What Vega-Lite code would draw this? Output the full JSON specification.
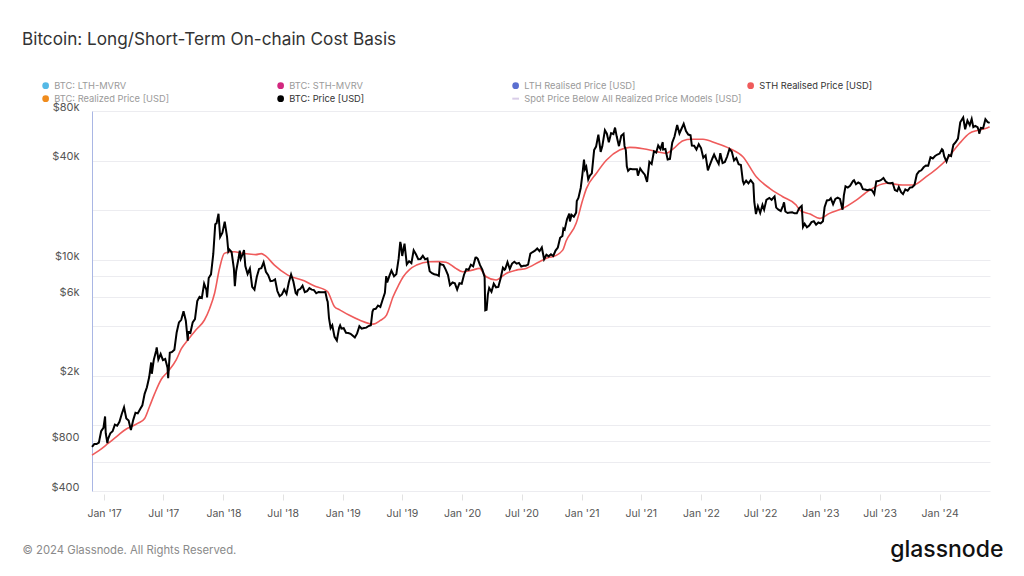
{
  "$schema": "https://vega.github.io/schema/vega-lite/v6.json",
  "autosize": "none",
  "width": 898,
  "height": 380,
  "padding": {"left": 92, "top": 111, "right": 34, "bottom": 85},
  "background": "white",
  "config": {
    "font": "Inter",
    "view": {"stroke": null},
    "axis": {"labelFont": "Inter", "titleFont": "Inter"},
    "legend": {"labelFont": "Inter"}
  },
  "title": {
    "text": "Bitcoin: Long/Short-Term On-chain Cost Basis",
    "anchor": "start",
    "frame": "group",
    "font": "Inter",
    "fontSize": 17.2,
    "fontWeight": "normal",
    "color": "#333333",
    "dx": -70,
    "offset": 33
  },
  "datasets": {
    "price": [
      {"d":"2016-11-25","p":740},{"d":"2016-12-02","p":770},{"d":"2016-12-09","p":770},{"d":"2016-12-16","p":785},{"d":"2016-12-23","p":920},{"d":"2016-12-30","p":965},
      {"d":"2017-01-04","p":1130},{"d":"2017-01-06","p":895},{"d":"2017-01-11","p":780},{"d":"2017-01-13","p":825},{"d":"2017-01-20","p":895},{"d":"2017-01-27","p":920},
      {"d":"2017-02-03","p":1010},{"d":"2017-02-10","p":995},{"d":"2017-02-17","p":1050},{"d":"2017-02-24","p":1170},{"d":"2017-03-03","p":1285},{"d":"2017-03-10","p":1100},
      {"d":"2017-03-17","p":1070},{"d":"2017-03-24","p":935},{"d":"2017-03-31","p":1075},{"d":"2017-04-07","p":1190},{"d":"2017-04-14","p":1180},{"d":"2017-04-21","p":1250},
      {"d":"2017-04-28","p":1320},{"d":"2017-05-05","p":1550},{"d":"2017-05-12","p":1700},{"d":"2017-05-19","p":1960},{"d":"2017-05-25","p":2400},{"d":"2017-05-27","p":2050},
      {"d":"2017-06-02","p":2490},{"d":"2017-06-09","p":2820},{"d":"2017-06-11","p":2960},{"d":"2017-06-16","p":2500},{"d":"2017-06-23","p":2700},{"d":"2017-06-30","p":2480},
      {"d":"2017-07-07","p":2520},{"d":"2017-07-14","p":2230},{"d":"2017-07-16","p":1930},{"d":"2017-07-21","p":2750},{"d":"2017-07-28","p":2780},{"d":"2017-08-04","p":2870},
      {"d":"2017-08-11","p":3650},{"d":"2017-08-18","p":4200},{"d":"2017-08-25","p":4350},{"d":"2017-09-01","p":4900},{"d":"2017-09-08","p":4300},{"d":"2017-09-14","p":3250},
      {"d":"2017-09-15","p":3700},{"d":"2017-09-22","p":3630},{"d":"2017-09-29","p":4200},{"d":"2017-10-06","p":4400},{"d":"2017-10-13","p":5650},{"d":"2017-10-20","p":6000},
      {"d":"2017-10-27","p":5900},{"d":"2017-11-03","p":7200},{"d":"2017-11-10","p":6600},{"d":"2017-11-12","p":5950},{"d":"2017-11-17","p":7800},{"d":"2017-11-24","p":8200},
      {"d":"2017-12-01","p":10900},{"d":"2017-12-07","p":16500},{"d":"2017-12-11","p":16700},{"d":"2017-12-17","p":19100},{"d":"2017-12-22","p":13800},{"d":"2017-12-29","p":14650},
      {"d":"2018-01-05","p":17100},{"d":"2018-01-12","p":13900},{"d":"2018-01-16","p":11300},{"d":"2018-01-19","p":11600},{"d":"2018-01-26","p":11200},{"d":"2018-02-02","p":8900},
      {"d":"2018-02-05","p":6950},{"d":"2018-02-09","p":8600},{"d":"2018-02-16","p":10200},{"d":"2018-02-20","p":11400},{"d":"2018-02-23","p":10200},{"d":"2018-03-02","p":11000},
      {"d":"2018-03-05","p":11500},{"d":"2018-03-09","p":9200},{"d":"2018-03-16","p":8250},{"d":"2018-03-23","p":8900},{"d":"2018-03-30","p":6900},{"d":"2018-04-06","p":6630},
      {"d":"2018-04-13","p":7900},{"d":"2018-04-20","p":8850},{"d":"2018-04-27","p":8950},{"d":"2018-05-04","p":9700},{"d":"2018-05-11","p":8500},{"d":"2018-05-18","p":8100},
      {"d":"2018-05-25","p":7470},{"d":"2018-06-01","p":7500},{"d":"2018-06-08","p":7650},{"d":"2018-06-15","p":6500},{"d":"2018-06-22","p":6050},{"d":"2018-06-29","p":6200},
      {"d":"2018-07-06","p":6640},{"d":"2018-07-13","p":6250},{"d":"2018-07-20","p":7320},{"d":"2018-07-27","p":8190},{"d":"2018-08-03","p":7420},{"d":"2018-08-10","p":6320},
      {"d":"2018-08-14","p":6200},{"d":"2018-08-17","p":6580},{"d":"2018-08-24","p":6690},{"d":"2018-08-31","p":7000},{"d":"2018-09-07","p":6400},{"d":"2018-09-14","p":6490},
      {"d":"2018-09-21","p":6770},{"d":"2018-09-28","p":6630},{"d":"2018-10-05","p":6590},{"d":"2018-10-12","p":6300},{"d":"2018-10-19","p":6420},{"d":"2018-10-26","p":6400},
      {"d":"2018-11-02","p":6390},{"d":"2018-11-09","p":6410},{"d":"2018-11-14","p":5740},{"d":"2018-11-16","p":5600},{"d":"2018-11-20","p":4450},{"d":"2018-11-25","p":3880},
      {"d":"2018-11-30","p":4030},{"d":"2018-12-07","p":3430},{"d":"2018-12-14","p":3260},{"d":"2018-12-21","p":3900},{"d":"2018-12-24","p":4030},{"d":"2018-12-28","p":3850},
      {"d":"2019-01-04","p":3870},{"d":"2019-01-11","p":3630},{"d":"2019-01-18","p":3620},{"d":"2019-01-25","p":3580},{"d":"2019-02-01","p":3480},{"d":"2019-02-07","p":3400},
      {"d":"2019-02-14","p":3600},{"d":"2019-02-21","p":3980},{"d":"2019-02-28","p":3850},{"d":"2019-03-07","p":3880},{"d":"2019-03-14","p":3900},{"d":"2019-03-21","p":3990},
      {"d":"2019-03-28","p":4030},{"d":"2019-04-02","p":4880},{"d":"2019-04-05","p":5040},{"d":"2019-04-12","p":5070},{"d":"2019-04-19","p":5310},{"d":"2019-04-26","p":5200},
      {"d":"2019-05-03","p":5760},{"d":"2019-05-10","p":6350},{"d":"2019-05-14","p":8000},{"d":"2019-05-17","p":7340},{"d":"2019-05-24","p":8050},{"d":"2019-05-30","p":8650},
      {"d":"2019-06-07","p":7990},{"d":"2019-06-14","p":8230},{"d":"2019-06-21","p":10200},{"d":"2019-06-26","p":12900},{"d":"2019-06-28","p":12400},{"d":"2019-07-02","p":10600},
      {"d":"2019-07-09","p":12570},{"d":"2019-07-16","p":9430},{"d":"2019-07-23","p":9850},{"d":"2019-07-30","p":9590},{"d":"2019-08-06","p":11460},{"d":"2019-08-13","p":10850},
      {"d":"2019-08-20","p":10140},{"d":"2019-08-27","p":10170},{"d":"2019-09-03","p":10620},{"d":"2019-09-10","p":10110},{"d":"2019-09-17","p":10240},{"d":"2019-09-24","p":8560},
      {"d":"2019-10-01","p":8340},{"d":"2019-10-08","p":8220},{"d":"2019-10-15","p":8160},{"d":"2019-10-22","p":8020},{"d":"2019-10-25","p":9550},{"d":"2019-10-29","p":9430},
      {"d":"2019-11-05","p":9330},{"d":"2019-11-12","p":8770},{"d":"2019-11-19","p":8120},{"d":"2019-11-25","p":7050},{"d":"2019-12-03","p":7320},{"d":"2019-12-10","p":7240},
      {"d":"2019-12-17","p":6640},{"d":"2019-12-24","p":7250},{"d":"2019-12-31","p":7190},
      {"d":"2020-01-07","p":8160},{"d":"2020-01-14","p":8810},{"d":"2020-01-21","p":8740},{"d":"2020-01-28","p":9390},{"d":"2020-02-04","p":9180},{"d":"2020-02-11","p":10350},
      {"d":"2020-02-14","p":10370},{"d":"2020-02-18","p":10180},{"d":"2020-02-25","p":9320},{"d":"2020-03-03","p":8760},{"d":"2020-03-10","p":7910},{"d":"2020-03-12","p":4970},
      {"d":"2020-03-16","p":5010},{"d":"2020-03-20","p":6200},{"d":"2020-03-24","p":6780},{"d":"2020-03-31","p":6440},{"d":"2020-04-07","p":7200},{"d":"2020-04-14","p":6840},
      {"d":"2020-04-21","p":6880},{"d":"2020-04-28","p":7760},{"d":"2020-05-05","p":9000},{"d":"2020-05-10","p":8750},{"d":"2020-05-12","p":8820},{"d":"2020-05-19","p":9730},
      {"d":"2020-05-26","p":8840},{"d":"2020-06-02","p":9530},{"d":"2020-06-09","p":9780},{"d":"2020-06-16","p":9520},{"d":"2020-06-23","p":9630},{"d":"2020-06-30","p":9140},
      {"d":"2020-07-07","p":9250},{"d":"2020-07-14","p":9250},{"d":"2020-07-21","p":9390},{"d":"2020-07-28","p":10950},{"d":"2020-08-04","p":11200},{"d":"2020-08-11","p":11400},
      {"d":"2020-08-18","p":11760},{"d":"2020-08-25","p":11330},{"d":"2020-09-01","p":11930},{"d":"2020-09-08","p":10130},{"d":"2020-09-15","p":10790},{"d":"2020-09-22","p":10540},
      {"d":"2020-09-29","p":10840},{"d":"2020-10-06","p":10600},{"d":"2020-10-13","p":11430},{"d":"2020-10-20","p":11920},{"d":"2020-10-27","p":13650},{"d":"2020-11-03","p":14000},
      {"d":"2020-11-06","p":15560},{"d":"2020-11-10","p":15300},{"d":"2020-11-17","p":17660},{"d":"2020-11-24","p":19150},{"d":"2020-11-26","p":17150},{"d":"2020-12-01","p":18800},
      {"d":"2020-12-08","p":18320},{"d":"2020-12-15","p":19400},{"d":"2020-12-17","p":22800},{"d":"2020-12-22","p":23830},{"d":"2020-12-29","p":27360},
      {"d":"2021-01-03","p":32780},{"d":"2021-01-08","p":40600},{"d":"2021-01-11","p":35500},{"d":"2021-01-15","p":36800},{"d":"2021-01-21","p":30800},{"d":"2021-01-26","p":32500},
      {"d":"2021-02-01","p":33500},{"d":"2021-02-08","p":46400},{"d":"2021-02-14","p":48700},{"d":"2021-02-21","p":57500},{"d":"2021-02-28","p":45200},{"d":"2021-03-05","p":48900},
      {"d":"2021-03-13","p":61200},{"d":"2021-03-19","p":58300},{"d":"2021-03-25","p":51700},{"d":"2021-04-01","p":58800},{"d":"2021-04-08","p":58000},{"d":"2021-04-13","p":63500},
      {"d":"2021-04-18","p":56200},{"d":"2021-04-25","p":49000},{"d":"2021-05-02","p":56600},{"d":"2021-05-09","p":58200},{"d":"2021-05-12","p":49150},{"d":"2021-05-16","p":46400},
      {"d":"2021-05-19","p":37000},{"d":"2021-05-23","p":34700},{"d":"2021-05-29","p":35700},{"d":"2021-06-05","p":35500},{"d":"2021-06-12","p":35500},{"d":"2021-06-19","p":35500},
      {"d":"2021-06-22","p":32500},{"d":"2021-06-29","p":35900},{"d":"2021-07-06","p":34200},{"d":"2021-07-13","p":32900},{"d":"2021-07-20","p":29800},{"d":"2021-07-27","p":39400},
      {"d":"2021-08-03","p":38200},{"d":"2021-08-10","p":45600},{"d":"2021-08-17","p":44800},{"d":"2021-08-23","p":49500},{"d":"2021-08-30","p":47000},{"d":"2021-09-06","p":51800},
      {"d":"2021-09-07","p":46800},{"d":"2021-09-14","p":47100},{"d":"2021-09-21","p":40700},{"d":"2021-09-28","p":41000},{"d":"2021-10-05","p":51500},{"d":"2021-10-12","p":56000},
      {"d":"2021-10-20","p":65900},{"d":"2021-10-27","p":58500},{"d":"2021-11-03","p":62900},{"d":"2021-11-09","p":66900},{"d":"2021-11-16","p":60400},{"d":"2021-11-23","p":57600},
      {"d":"2021-11-30","p":57000},{"d":"2021-12-04","p":49400},{"d":"2021-12-11","p":49300},{"d":"2021-12-18","p":46700},{"d":"2021-12-25","p":50400},
      {"d":"2022-01-01","p":47700},{"d":"2022-01-08","p":41700},{"d":"2022-01-15","p":43100},{"d":"2022-01-22","p":35000},{"d":"2022-01-29","p":38200},{"d":"2022-02-05","p":41400},
      {"d":"2022-02-10","p":43600},{"d":"2022-02-17","p":40600},{"d":"2022-02-24","p":38300},{"d":"2022-03-01","p":44400},{"d":"2022-03-08","p":38700},{"d":"2022-03-15","p":39300},
      {"d":"2022-03-22","p":42400},{"d":"2022-03-29","p":47100},{"d":"2022-04-05","p":45500},{"d":"2022-04-12","p":40100},{"d":"2022-04-19","p":41500},{"d":"2022-04-26","p":38100},
      {"d":"2022-05-03","p":37700},{"d":"2022-05-09","p":30100},{"d":"2022-05-12","p":29000},{"d":"2022-05-19","p":30300},{"d":"2022-05-26","p":29200},{"d":"2022-06-02","p":30500},
      {"d":"2022-06-10","p":29100},{"d":"2022-06-13","p":22500},{"d":"2022-06-18","p":19000},{"d":"2022-06-24","p":21200},{"d":"2022-07-01","p":19300},{"d":"2022-07-08","p":21600},
      {"d":"2022-07-13","p":20200},{"d":"2022-07-20","p":23200},{"d":"2022-07-29","p":23800},{"d":"2022-08-05","p":23200},{"d":"2022-08-14","p":24300},{"d":"2022-08-19","p":20800},
      {"d":"2022-08-26","p":20200},{"d":"2022-09-02","p":19800},{"d":"2022-09-09","p":21400},{"d":"2022-09-12","p":22400},{"d":"2022-09-16","p":19700},{"d":"2022-09-23","p":19300},
      {"d":"2022-09-30","p":19400},{"d":"2022-10-07","p":19500},{"d":"2022-10-14","p":19200},{"d":"2022-10-21","p":19200},{"d":"2022-10-28","p":20600},{"d":"2022-11-05","p":21300},
      {"d":"2022-11-09","p":15900},{"d":"2022-11-14","p":16600},{"d":"2022-11-21","p":15800},{"d":"2022-11-28","p":16200},{"d":"2022-12-05","p":17000},{"d":"2022-12-12","p":17200},
      {"d":"2022-12-19","p":16400},{"d":"2022-12-26","p":16900},
      {"d":"2023-01-02","p":16700},{"d":"2023-01-09","p":17200},{"d":"2023-01-14","p":20900},{"d":"2023-01-21","p":23000},{"d":"2023-01-28","p":23100},{"d":"2023-02-02","p":23700},
      {"d":"2023-02-09","p":21800},{"d":"2023-02-16","p":23500},{"d":"2023-02-23","p":23900},{"d":"2023-03-02","p":23500},{"d":"2023-03-10","p":20200},{"d":"2023-03-14","p":24700},
      {"d":"2023-03-19","p":28000},{"d":"2023-03-26","p":27500},{"d":"2023-04-02","p":28200},{"d":"2023-04-11","p":30200},{"d":"2023-04-14","p":30500},{"d":"2023-04-20","p":28800},
      {"d":"2023-04-27","p":29500},{"d":"2023-05-04","p":29000},{"d":"2023-05-11","p":26900},{"d":"2023-05-18","p":26800},{"d":"2023-05-25","p":26500},{"d":"2023-06-01","p":26800},
      {"d":"2023-06-08","p":26500},{"d":"2023-06-15","p":25100},{"d":"2023-06-21","p":30000},{"d":"2023-06-28","p":30100},{"d":"2023-07-05","p":30500},{"d":"2023-07-13","p":31400},
      {"d":"2023-07-20","p":29900},{"d":"2023-07-27","p":29300},{"d":"2023-08-03","p":29200},{"d":"2023-08-10","p":29400},{"d":"2023-08-17","p":26600},{"d":"2023-08-24","p":26200},
      {"d":"2023-08-29","p":27700},{"d":"2023-09-05","p":25800},{"d":"2023-09-11","p":25100},{"d":"2023-09-18","p":26800},{"d":"2023-09-25","p":26300},{"d":"2023-10-02","p":27500},
      {"d":"2023-10-09","p":27600},{"d":"2023-10-16","p":28500},{"d":"2023-10-23","p":33000},{"d":"2023-10-30","p":34500},{"d":"2023-11-06","p":35000},{"d":"2023-11-13","p":36500},
      {"d":"2023-11-20","p":37400},{"d":"2023-11-27","p":37300},{"d":"2023-12-04","p":42000},{"d":"2023-12-11","p":41300},{"d":"2023-12-18","p":42700},{"d":"2023-12-25","p":43600},
      {"d":"2024-01-01","p":44200},{"d":"2024-01-08","p":47000},{"d":"2024-01-11","p":46300},{"d":"2024-01-15","p":42500},{"d":"2024-01-22","p":39500},{"d":"2024-01-29","p":43300},
      {"d":"2024-02-05","p":42700},{"d":"2024-02-12","p":50000},{"d":"2024-02-19","p":51800},{"d":"2024-02-26","p":54500},{"d":"2024-03-04","p":68300},{"d":"2024-03-11","p":72100},
      {"d":"2024-03-13","p":73100},{"d":"2024-03-19","p":62000},{"d":"2024-03-26","p":70000},{"d":"2024-04-02","p":65700},{"d":"2024-04-08","p":71600},{"d":"2024-04-13","p":63900},
      {"d":"2024-04-19","p":64900},{"d":"2024-04-26","p":63800},{"d":"2024-04-30","p":60600},{"d":"2024-05-01","p":58300},{"d":"2024-05-06","p":63200},{"d":"2024-05-13","p":62900},
      {"d":"2024-05-20","p":71400},{"d":"2024-05-27","p":68500},{"d":"2024-06-02","p":67800}
    ],
    "sth": [
      {"d":"2016-11-25","s":660},{"d":"2016-12-15","s":700},{"d":"2017-01-13","s":776},{"d":"2017-02-10","s":860},{"d":"2017-03-10","s":950},{"d":"2017-03-25","s":980},
      {"d":"2017-04-15","s":1030},{"d":"2017-05-05","s":1100},{"d":"2017-05-20","s":1300},{"d":"2017-06-05","s":1560},{"d":"2017-06-25","s":1900},{"d":"2017-07-15","s":2110},
      {"d":"2017-08-10","s":2500},{"d":"2017-08-25","s":2900},{"d":"2017-09-14","s":3280},{"d":"2017-10-10","s":3800},{"d":"2017-11-04","s":4340},{"d":"2017-11-20","s":5100},
      {"d":"2017-12-05","s":6300},{"d":"2017-12-20","s":8900},{"d":"2018-01-04","s":10990},{"d":"2018-01-20","s":11200},{"d":"2018-02-04","s":11240},{"d":"2018-02-25","s":11000},
      {"d":"2018-03-20","s":10900},{"d":"2018-04-10","s":10800},{"d":"2018-04-27","s":10950},{"d":"2018-05-10","s":10600},{"d":"2018-06-06","s":9330},{"d":"2018-07-17","s":8120},
      {"d":"2018-09-05","s":7500},{"d":"2018-10-05","s":7000},{"d":"2018-11-05","s":6650},{"d":"2018-11-16","s":6440},{"d":"2018-12-07","s":5220},{"d":"2018-12-23","s":5000},
      {"d":"2019-01-20","s":4650},{"d":"2019-02-21","s":4340},{"d":"2019-04-04","s":4100},{"d":"2019-04-25","s":4300},{"d":"2019-05-15","s":4650},{"d":"2019-06-04","s":6000},
      {"d":"2019-06-20","s":7000},{"d":"2019-07-05","s":7930},{"d":"2019-07-25","s":8800},{"d":"2019-08-15","s":9340},{"d":"2019-09-24","s":9780},{"d":"2019-10-20","s":9800},
      {"d":"2019-11-13","s":9700},{"d":"2019-12-10","s":9000},{"d":"2020-01-03","s":8500},{"d":"2020-02-01","s":8700},{"d":"2020-02-23","s":8910},{"d":"2020-03-15","s":7930},
      {"d":"2020-04-14","s":7580},{"d":"2020-05-15","s":8310},{"d":"2020-06-15","s":8700},{"d":"2020-07-15","s":8910},{"d":"2020-08-25","s":9780},{"d":"2020-09-24","s":10400},
      {"d":"2020-10-04","s":10490},{"d":"2020-11-04","s":11500},{"d":"2020-11-14","s":13000},{"d":"2020-12-15","s":16700},{"d":"2021-01-04","s":23100},{"d":"2021-01-15","s":27000},
      {"d":"2021-02-15","s":33600},{"d":"2021-03-18","s":40400},{"d":"2021-04-27","s":46400},{"d":"2021-05-28","s":48200},{"d":"2021-07-08","s":47300},{"d":"2021-08-18","s":45400},
      {"d":"2021-09-17","s":44300},{"d":"2021-10-07","s":47000},{"d":"2021-11-07","s":52900},{"d":"2021-12-01","s":53900},{"d":"2022-01-07","s":53900},{"d":"2022-02-17","s":51000},
      {"d":"2022-03-29","s":47500},{"d":"2022-05-09","s":42300},{"d":"2022-06-19","s":32000},{"d":"2022-07-30","s":27200},{"d":"2022-09-08","s":24200},{"d":"2022-10-19","s":21560},
      {"d":"2022-10-30","s":20100},{"d":"2022-12-01","s":19000},{"d":"2022-12-30","s":17900},{"d":"2023-01-29","s":19200},{"d":"2023-03-11","s":20600},{"d":"2023-04-21","s":23100},
      {"d":"2023-06-01","s":26600},{"d":"2023-07-22","s":29200},{"d":"2023-09-10","s":28500},{"d":"2023-10-11","s":28500},{"d":"2023-11-21","s":32000},{"d":"2024-01-21","s":40400},
      {"d":"2024-03-02","s":51000},{"d":"2024-04-01","s":58600},{"d":"2024-04-25","s":61000},{"d":"2024-05-27","s":63400},{"d":"2024-06-02","s":64000}
    ]
  },
  "encoding": {
    "x": {
      "field": "d",
      "type": "temporal",
      "scale": {"type": "utc", "domain": [{"year": 2016, "month": 11, "date": 25, "utc": true}, {"year": 2024, "month": 6, "date": 3, "utc": true}]},
      "axis": {
        "title": "© 2024 Glassnode. All Rights Reserved.",
        "titleFont": "Inter",
        "titleFontSize": 11.3,
        "titleFontWeight": "normal",
        "titleColor": "#8a8a8a",
        "titleAnchor": "start",
        "titleAlign": "left",
        "titleBaseline": "middle",
        "titleX": -70,
        "titleY": 56,
        "values": [
          {"year": 2017, "month": 1, "date": 1, "utc": true}, {"year": 2017, "month": 7, "date": 1, "utc": true},
          {"year": 2018, "month": 1, "date": 1, "utc": true}, {"year": 2018, "month": 7, "date": 1, "utc": true},
          {"year": 2019, "month": 1, "date": 1, "utc": true}, {"year": 2019, "month": 7, "date": 1, "utc": true},
          {"year": 2020, "month": 1, "date": 1, "utc": true}, {"year": 2020, "month": 7, "date": 1, "utc": true},
          {"year": 2021, "month": 1, "date": 1, "utc": true}, {"year": 2021, "month": 7, "date": 1, "utc": true},
          {"year": 2022, "month": 1, "date": 1, "utc": true}, {"year": 2022, "month": 7, "date": 1, "utc": true},
          {"year": 2023, "month": 1, "date": 1, "utc": true}, {"year": 2023, "month": 7, "date": 1, "utc": true},
          {"year": 2024, "month": 1, "date": 1, "utc": true}
        ],
        "format": "%b '%y",
        "labelFontSize": 10.5,
        "labelColor": "#555555",
        "labelFlush": false,
        "labelOverlap": false,
        "labelPadding": 8,
        "grid": false,
        "domain": false,
        "ticks": true,
        "tickColor": "#e2e2e2",
        "tickSize": 6,
        "offset": 3
      }
    }
  },
  "layer": [
    {
      "data": {"name": "sth"},
      "mark": {"type": "line", "strokeWidth": 1.6, "interpolate": "monotone"},
      "encoding": {
        "y": {
          "field": "s",
          "type": "quantitative",
          "scale": {"type": "log", "domain": [400, 80000], "nice": false},
          "axis": {
            "title": "glassnode",
            "titleAngle": 0,
            "titleFont": "Inter",
            "titleFontSize": 23,
            "titleFontWeight": 500,
            "titleColor": "#111111",
            "titleAlign": "right",
            "titleBaseline": "middle",
            "titleX": 911,
            "titleY": 438,
            "values": [400, 600, 800, 1000, 2000, 4000, 6000, 8000, 10000, 20000, 40000, 80000],
            "labelExpr": "indexof([400, 800, 2000, 6000, 10000, 40000, 80000], datum.value) >= 0 ? (datum.value >= 1000 ? '$' + (datum.value / 1000) + 'k' : '$' + datum.value) : ''",
            "labelFontSize": 11,
            "labelColor": "#555555",
            "labelBaseline": "alphabetic",
            "labelOffset": -1,
            "labelPadding": 13,
            "labelOverlap": false,
            "labelFlush": false,
            "ticks": false,
            "domain": true,
            "domainColor": "#a9b6e4",
            "domainWidth": 1,
            "grid": true,
            "gridColor": "#ececf0",
            "gridWidth": 1
          }
        },
        "color": {
          "datum": "STH Realised Price [USD]",
          "type": "nominal",
          "scale": {
            "domain": ["BTC: LTH-MVRV", "BTC: STH-MVRV", "LTH Realised Price [USD]", "STH Realised Price [USD]", "BTC: Realized Price [USD]", "BTC: Price [USD]", "Spot Price Below All Realized Price Models [USD]"],
            "range": ["#55b9e6", "#d2287f", "#5b6fd0", "#ef5b5b", "#f08c1d", "#000000", "#d9cde8"]
          },
          "legend": {
            "title": null,
            "orient": "none",
            "legendX": -51,
            "legendY": -30,
            "direction": "horizontal",
            "columns": 4,
            "gridAlign": "all",
            "columnPadding": 1,
            "rowPadding": 3,
            "padding": 0,
            "labelFont": "Inter",
            "labelFontSize": 9.3,
            "labelLimit": 400,
            "labelOffset": 4,
            "symbolType": "circle",
            "symbolSize": 45,
            "symbolStrokeWidth": 0,
            "encode": {
              "labels": {"update": {"fill": {"signal": "datum.value === 'STH Realised Price [USD]' || datum.value === 'BTC: Price [USD]' ? '#333333' : '#9a9a9a'"}}},
              "symbols": {"update": {
                "fill": {"signal": "scale('color', datum.value)"},
                "stroke": {"signal": "scale('color', datum.value)"},
                "shape": {"signal": "datum.value === 'Spot Price Below All Realized Price Models [USD]' ? 'stroke' : 'circle'"},
                "strokeWidth": {"signal": "datum.value === 'Spot Price Below All Realized Price Models [USD]' ? 2 : 0"}
              }}
            }
          }
        }
      }
    },
    {
      "data": {"name": "price"},
      "mark": {"type": "line", "strokeWidth": 2},
      "encoding": {
        "y": {"field": "p", "type": "quantitative"},
        "color": {"datum": "BTC: Price [USD]", "type": "nominal"}
      }
    }
  ]
}
